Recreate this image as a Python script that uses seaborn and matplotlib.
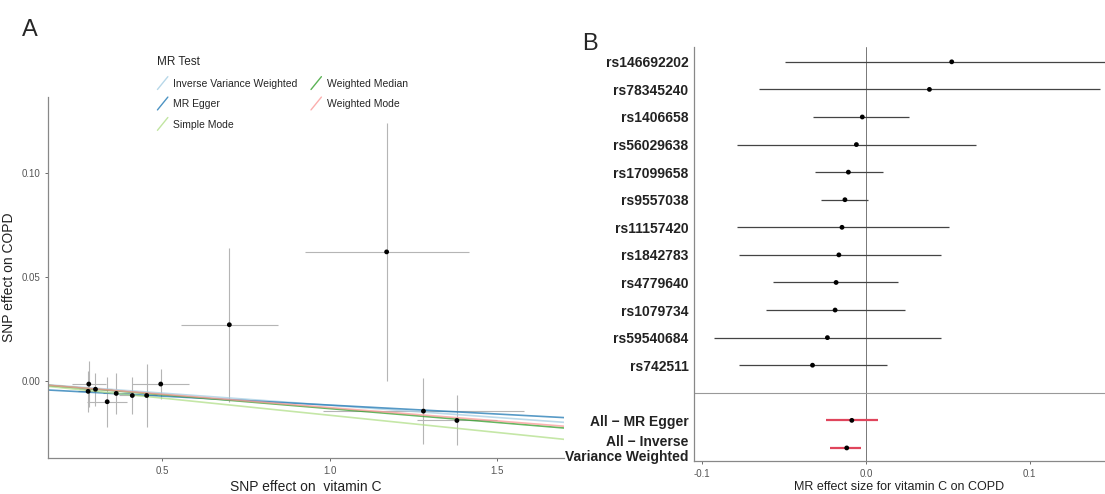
"""
MR scatter (A) and single-SNP forest plot (B): vitamin C -> COPD
"""

import matplotlib
matplotlib.use("Agg")
import matplotlib.pyplot as plt
import seaborn as sns
import pandas as pd
import numpy as np
from matplotlib.lines import Line2D
from matplotlib.legend_handler import HandlerBase

# ---- Panel A data: SNP effects ----
snp_bx = [1.17, 0.70, 1.28, 1.38, 0.28, 0.278, 0.335, 0.362, 0.41, 0.453, 0.495, 0.30]
snp_bx_err = [0.245, 0.145, 0.30, 0.12, 0.05, 0.03, 0.06, 0.04, 0.04, 0.03, 0.085, 0.05]
snp_by = [0.062, 0.027, -0.0145, -0.019, -0.0015, -0.005, -0.010, -0.006, -0.007, -0.007, -0.0015, -0.004]
snp_by_err = [0.062, 0.037, 0.016, 0.012, 0.011, 0.010, 0.012, 0.010, 0.009, 0.015, 0.007, 0.008]

methods = ["Inverse Variance Weighted", "MR Egger", "Simple Mode", "Weighted Median", "Weighted Mode"]
method_slope = [-0.0117, -0.0086, -0.0165, -0.0133, -0.0128]
method_intercept = [0.0, -0.003, 0.0, 0.0, 0.0]
method_colors = ["#a6cee3", "#1f78b4", "#b2df8a", "#33a02c", "#fb9a99"]

# ---- Panel B data: single SNP MR estimates ----
snp_names = ["rs146692202", "rs78345240", "rs1406658", "rs56029638", "rs17099658",
             "rs9557038", "rs11157420", "rs1842783", "rs4779640", "rs1079734",
             "rs59540684", "rs742511"]
snp_b = [0.0524, 0.0388, -0.0022, -0.0058, -0.0107, -0.0128, -0.0146,
         -0.0165, -0.0182, -0.0188, -0.0235, -0.0326]
snp_lo = [-0.0495, -0.0655, -0.032, -0.0787, -0.031, -0.0277, -0.0787,
          -0.0777, -0.0566, -0.061, -0.093, -0.0777]
snp_hi = [0.16, 0.143, 0.0265, 0.067, 0.0102, 0.0014, 0.051,
          0.0456, 0.0195, 0.0238, 0.046, 0.0127]

summary_names = ["All \u2212 MR Egger", "All \u2212 Inverse\nVariance Weighted"]
summary_b = [-0.0086, -0.0117]
summary_lo = [-0.0245, -0.0218]
summary_hi = [0.0073, -0.0032]

sns.set_style("ticks")
plt.rcParams['font.family'] = ['Liberation Sans', 'DejaVu Sans']


class DiagonalKey(HandlerBase):
    """ggplot-style abline legend key"""
    def create_artists(self, legend, orig_handle, xdescent, ydescent,
                       width, height, fontsize, trans):
        line = Line2D([-xdescent, -xdescent + width], [-ydescent - 2, -ydescent + height + 2],
                      color=orig_handle.get_color(), lw=orig_handle.get_linewidth(),
                      alpha=0.8, transform=trans)
        return [line]


fig = plt.figure(figsize=(11.05, 4.94), dpi=100)
axA = fig.add_axes([0.0434, 0.073, 0.467, 0.731])
axB = fig.add_axes([0.628, 0.067, 0.372, 0.838])

# ---------------- Panel A ----------------
dfA = pd.DataFrame({"bx": snp_bx, "by": snp_by, "bx_err": snp_bx_err, "by_err": snp_by_err})
axA.errorbar(dfA["bx"], dfA["by"], xerr=dfA["bx_err"], yerr=dfA["by_err"],
             fmt="none", ecolor="#b5b5b5", elinewidth=0.8, capsize=0, zorder=1)

handles = []
for m, s, b0, c in zip(methods, method_slope, method_intercept, method_colors):
    axA.axline((0, b0), slope=s, color=c, lw=1.2, alpha=0.75, zorder=2)
    handles.append(Line2D([], [], color=c, lw=1.0, label=m))

sns.scatterplot(data=dfA, x="bx", y="by", ax=axA, color="black", s=12,
                edgecolor="none", zorder=3)

axA.set_xlim(0.158, 1.70)
axA.set_ylim(-0.037, 0.1365)
axA.set_xticks([0.5, 1.0, 1.5])
axA.set_xticklabels(["0.5", "1.0", "1.5"])
axA.set_yticks([0.0, 0.05, 0.10])
axA.set_yticklabels(["0.00", "0.05", "0.10"])
axA.tick_params(labelsize=7, colors="#555555", length=2, width=0.6)
axA.set_xlabel("SNP effect on  vitamin C", fontsize=10, labelpad=3, color="#222222")
axA.set_ylabel("SNP effect on COPD", fontsize=10, labelpad=4, color="#222222")
for sp in ["top", "right"]:
    axA.spines[sp].set_visible(False)
for sp in ["left", "bottom"]:
    axA.spines[sp].set_color("#888888")
    axA.spines[sp].set_linewidth(0.9)

leg = fig.legend(handles=handles, labels=methods, title="MR Test", ncol=2,
                 loc="upper left", bbox_to_anchor=(0.134, 0.905), frameon=False,
                 fontsize=7.5, title_fontsize=8.5, alignment="left",
                 handlelength=1.0, handletextpad=0.5, columnspacing=1.3,
                 labelspacing=1.0, handler_map={Line2D: DiagonalKey()})

# ---------------- Panel B ----------------
labels_all = snp_names + [""] + summary_names
b_all = snp_b + [np.nan] + summary_b
lo_all = snp_lo + [np.nan] + summary_lo
hi_all = snp_hi + [np.nan] + summary_hi
dfB = pd.DataFrame({"label": labels_all, "b": b_all, "lo": lo_all, "hi": hi_all})
dfB["row"] = np.arange(len(dfB))
dfB["kind"] = ["snp"] * len(snp_names) + ["sep"] + ["summary"] * len(summary_names)

axB.axvline(0, color="#777777", lw=0.7, zorder=1)
sep_row = dfB.loc[dfB["kind"] == "sep", "row"].iloc[0]
axB.axhline(sep_row, color="#999999", lw=0.8, zorder=1)

snp_rows = dfB[dfB["kind"] == "snp"]
sum_rows = dfB[dfB["kind"] == "summary"]
axB.hlines(snp_rows["row"], snp_rows["lo"], snp_rows["hi"], color="#444444", lw=0.9, zorder=2)
axB.hlines(sum_rows["row"], sum_rows["lo"], sum_rows["hi"], color="#e0455c", lw=1.6, zorder=2)
sns.scatterplot(data=dfB.dropna(), x="b", y="row", ax=axB, color="black", s=12,
                edgecolor="none", zorder=3)

axB.set_xlim(-0.105, 0.146)
axB.set_ylim(14.47, -0.54)
ytick_rows = dfB.loc[dfB["kind"] != "sep", "row"]
axB.set_yticks(ytick_rows)
axB.set_yticklabels(dfB.loc[dfB["kind"] != "sep", "label"], fontsize=10,
                    fontweight="bold", color="#222222", linespacing=1.05)
axB.set_xticks([-0.1, 0.0, 0.1])
axB.set_xticklabels(["-0.1", "0.0", "0.1"])
axB.tick_params(axis="x", labelsize=7, colors="#555555", length=2, width=0.6)
axB.tick_params(axis="y", length=0, pad=4)
axB.set_xlabel("MR effect size for vitamin C on COPD", fontsize=9, labelpad=2, color="#222222")
axB.set_ylabel("")
for sp in ["top", "right"]:
    axB.spines[sp].set_visible(False)
for sp in ["left", "bottom"]:
    axB.spines[sp].set_color("#888888")
    axB.spines[sp].set_linewidth(0.9)

fig.text(0.027, 0.94, "A", fontsize=17, ha="center", va="center")
fig.text(0.534, 0.91, "B", fontsize=17, ha="center", va="center")

plt.savefig("out.png", dpi=100)
